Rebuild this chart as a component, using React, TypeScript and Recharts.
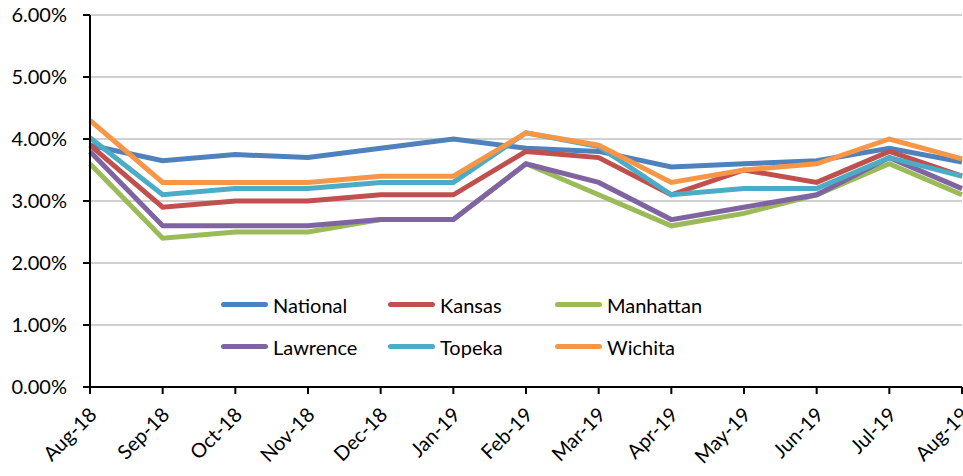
import {
  CartesianGrid,
  Legend,
  Line,
  LineChart,
  XAxis,
  YAxis,
} from "recharts";

// monthly values, percent
const months = [
  "Aug-18", "Sep-18", "Oct-18", "Nov-18", "Dec-18", "Jan-19", "Feb-19",
  "Mar-19", "Apr-19", "May-19", "Jun-19", "Jul-19", "Aug-19",
];
const national = [3.9, 3.65, 3.75, 3.7, 3.85, 4.0, 3.85, 3.8, 3.55, 3.6, 3.65, 3.85, 3.63];
const kansas = [3.9, 2.9, 3.0, 3.0, 3.1, 3.1, 3.8, 3.7, 3.1, 3.5, 3.3, 3.8, 3.4];
const manhattan = [3.6, 2.4, 2.5, 2.5, 2.7, 2.7, 3.6, 3.1, 2.6, 2.8, 3.1, 3.6, 3.1];
const lawrence = [3.8, 2.6, 2.6, 2.6, 2.7, 2.7, 3.6, 3.3, 2.7, 2.9, 3.1, 3.7, 3.2];
const topeka = [4.02, 3.1, 3.2, 3.2, 3.3, 3.3, 4.1, 3.88, 3.1, 3.2, 3.2, 3.7, 3.4];
const wichita = [4.3, 3.3, 3.3, 3.3, 3.4, 3.4, 4.1, 3.9, 3.3, 3.5, 3.6, 4.0, 3.68];
const yTicks = [0, 1, 2, 3, 4, 5, 6];

const series = [
  { key: "National", values: national, color: "#4f81bd" },
  { key: "Kansas", values: kansas, color: "#c0504d" },
  { key: "Manhattan", values: manhattan, color: "#9bbb59" },
  { key: "Lawrence", values: lawrence, color: "#8064a2" },
  { key: "Topeka", values: topeka, color: "#4bacc6" },
  { key: "Wichita", values: wichita, color: "#f79646" },
];

const data = months.map((m, i) => {
  const row: Record<string, string | number> = { month: m };
  series.forEach((s) => (row[s.key] = s.values[i]));
  return row;
});

const FONT = "Lato, 'Open Sans', sans-serif";

const MonthTick = ({ x, y, payload }: any) => (
  <text
    x={0}
    y={0}
    transform={`translate(${x + 8}, ${y + 20}) rotate(-45)`}
    textAnchor="end"
    fontSize={20}
    fontFamily={FONT}
    fill="#000"
  >
    {payload.value}
  </text>
);

const LegendBox = () => (
  <div
    style={{
      display: "grid",
      gridTemplateColumns: "167px 167px 167px",
      rowGap: 17,
      fontFamily: FONT,
      fontSize: 20,
      color: "#000",
    }}
  >
    {series.map((s) => (
      <div key={s.key} style={{ display: "flex", alignItems: "center", height: 25 }}>
        <span
          style={{
            display: "inline-block",
            width: 47,
            height: 5,
            borderRadius: 3,
            background: s.color,
            marginRight: 5,
          }}
        />
        {s.key}
      </div>
    ))}
  </div>
);

export default function App() {
  return (
    <div style={{ position: "absolute", top: 0, left: 0, background: "#fff" }}>
      <LineChart
        width={963}
        height={476}
        data={data}
        margin={{ top: 15, right: 1, left: 0, bottom: 0 }}
      >
        <CartesianGrid vertical={false} stroke="#c0c0c0" strokeWidth={1.5} />
        <XAxis
          dataKey="month"
          height={89}
          interval={0}
          tick={<MonthTick />}
          tickSize={7}
          axisLine={{ stroke: "#000", strokeWidth: 2 }}
          tickLine={{ stroke: "#000", strokeWidth: 2 }}
        />
        <YAxis
          width={90}
          domain={[0, 6]}
          ticks={yTicks}
          tickFormatter={(v: number) => `${v.toFixed(2)}%`}
          tick={{ fill: "#000", fontSize: 20, fontFamily: FONT }}
          tickSize={7}
          tickMargin={16}
          axisLine={{ stroke: "#000", strokeWidth: 2 }}
          tickLine={{ stroke: "#000", strokeWidth: 2 }}
        />
        <Legend
          layout="vertical"
          align="center"
          verticalAlign="middle"
          content={<LegendBox />}
          wrapperStyle={{ position: "absolute", top: 292, left: 221, width: 520 }}
        />
        {series.map((s) => (
          <Line
            key={s.key}
            dataKey={s.key}
            stroke={s.color}
            strokeWidth={5}
            dot={false}
            activeDot={false}
            isAnimationActive={false}
          />
        ))}
      </LineChart>
    </div>
  );
}
